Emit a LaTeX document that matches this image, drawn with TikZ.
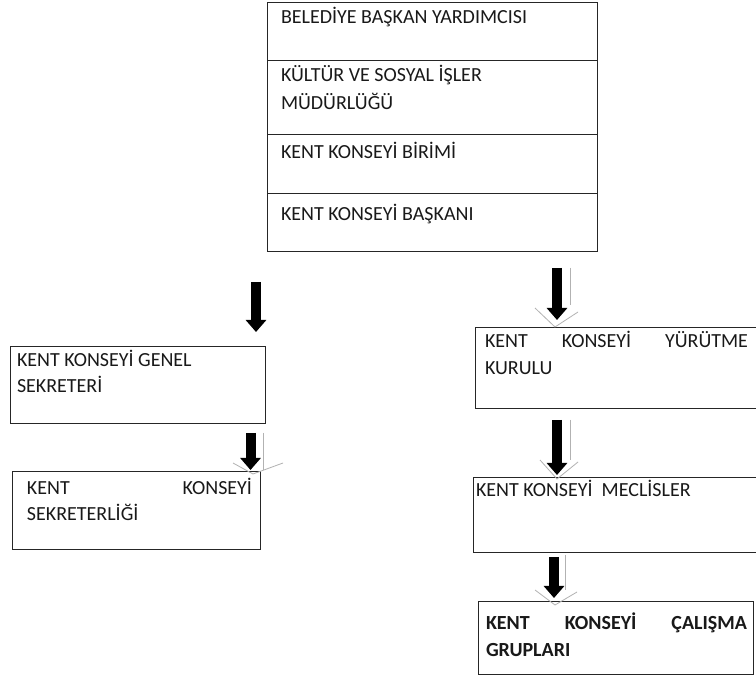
\documentclass[tikz,border=0pt]{standalone}
\usepackage{fontspec}
\setmainfont{Carlito}
\usetikzlibrary{arrows.meta}
\begin{document}
\begin{tikzpicture}[x=1pt,y=-1pt,
  box/.style={draw=black!85,line width=1pt,inner sep=0pt,outer sep=0pt,anchor=north west},
  txt/.style={anchor=base west,inner sep=0pt,outer sep=0pt,font=\fontsize{20}{26}\selectfont,text=black!90},
  blockarrow/.style={line width=10pt,black,-{Triangle[width=20pt,length=12pt]}},
  ghost/.style={draw=black!30,line width=0.8pt}]
\useasboundingbox (0,0) rectangle (756,684);
\fill[white] (0,0) rectangle (756,684);

% top stacked box
\node[box,minimum width=330pt,minimum height=58pt] (r1) at (267,3) {};
\node[box,minimum width=330pt,minimum height=74pt] (r2) at (267,61) {};
\node[box,minimum width=330pt,minimum height=59pt] (r3) at (267,135) {};
\node[box,minimum width=330pt,minimum height=58pt] (r4) at (267,194) {};
\node[txt] (t1) at (281,24) {BELEDİYE BAŞKAN YARDIMCISI};
\node[txt] (t2a) at (281,82) {KÜLTÜR VE SOSYAL İŞLER};
\node[txt] (t2b) at (281,110) {MÜDÜRLÜĞÜ};
\node[txt] (t3) at (281,159) {KENT KONSEYİ BİRİMİ};
\node[txt] (t4) at (281,221) {KENT KONSEYİ BAŞKANI};

% left column
\node[box,minimum width=255pt,minimum height=77pt] (gs) at (10,347) {};
\node[txt] (gs1) at (17,367) {KENT KONSEYİ GENEL};
\node[txt] (gs2) at (17,393) {SEKRETERİ};
\node[box,minimum width=248pt,minimum height=78pt] (sk) at (12,472) {};
\node[txt] (sk1) at (27,495) {\hbox to 225pt{KENT\hfill KONSEYİ}};
\node[txt] (sk2) at (27,521) {SEKRETERLİĞİ};

% right column
\node[box,minimum width=283pt,minimum height=81pt] (yk) at (475,328) {};
\node[txt] (yk1) at (485,348) {\hbox to 263pt{KENT\hfill KONSEYİ\hfill YÜRÜTME}};
\node[txt] (yk2) at (485,375) {KURULU};
\node[box,minimum width=285pt,minimum height=75pt] (ml) at (473,478) {};
\node[txt] (ml1) at (476,497) {KENT KONSEYİ~ MECLİSLER};
\node[box,minimum width=275pt,minimum height=73pt] (cg) at (478,602) {};
\node[txt,font=\fontsize{20}{26}\selectfont\bfseries] (cg1) at (486,630) {\hbox to 261pt{KENT\hfill KONSEYİ\hfill ÇALIŞMA}};
\node[txt,font=\fontsize{20}{26}\selectfont\bfseries] (cg2) at (486,657) {GRUPLARI};

% arrow end points
\coordinate (a1s) at (256,282); \coordinate (a1e) at (256,332);
\coordinate (a2s) at (250.5,433); \coordinate (a2e) at (250.5,470);
\coordinate (a3s) at (557,268); \coordinate (a3e) at (557,320);
\coordinate (a4s) at (557,420); \coordinate (a4e) at (557,475);
\coordinate (a5s) at (554,557); \coordinate (a5e) at (554,598);

% faint scan shadows of the arrow shapes
\draw[ghost] (263,433) -- (263,470);
\draw[ghost] (233,463) -- (253,474) -- (283,463);
\draw[ghost] (570,268) -- (570,305);
\draw[ghost] (535,308) -- (555,327) -- (578,312);
\draw[ghost] (570,420) -- (570,460);
\draw[ghost] (540,460) -- (557,479) -- (578,462);
\draw[ghost] (565,555) -- (565,590);
\draw[ghost] (535,590) -- (555,605) -- (577,592);

% block arrows
\draw[blockarrow] (a1s) -- (a1e);
\draw[blockarrow] (a2s) -- (a2e);
\draw[blockarrow] (a3s) -- (a3e);
\draw[blockarrow] (a4s) -- (a4e);
\draw[blockarrow] (a5s) -- (a5e);
\end{tikzpicture}
\end{document}
